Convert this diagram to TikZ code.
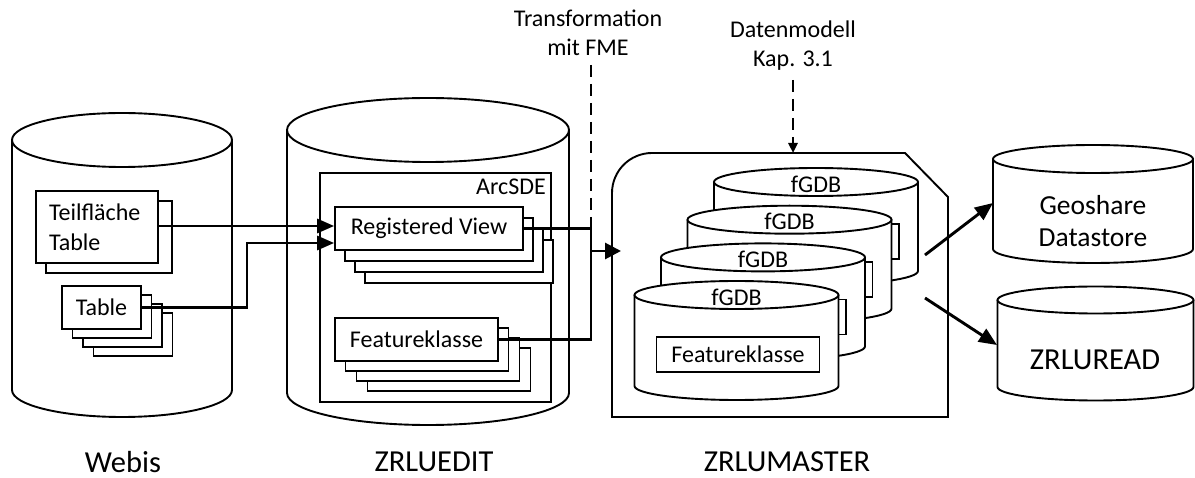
\documentclass[tikz,border=0pt]{standalone}
\usepackage{fontspec}
\setmainfont{Carlito}
\usetikzlibrary{arrows.meta}

% font sizes
\newcommand{\txtn}{\fontsize{24}{29}\selectfont}
\newcommand{\txtm}{\fontsize{27.5}{32}\selectfont}
\newcommand{\txtl}{\fontsize{30.5}{36}\selectfont}

% database cylinder: centre x, x radius, top centre y, bottom centre y, y radius
\newcommand{\dbcyl}[5]{%
  \draw[cyl] ({#1-#2},{#3}) -- ({#1-#2},{#4})
    arc[start angle=180,end angle=360,x radius=#2pt,y radius=#5pt] -- ({#1+#2},{#3});
  \draw[cyl] ({#1},{#3}) ellipse[x radius=#2pt,y radius=#5pt];
}

\begin{document}
\begin{tikzpicture}[x=1pt,y=-1pt,
  cyl/.style={draw,line width=1.9pt,fill=white},
  box/.style={draw,line width=1.7pt,fill=white,inner sep=0pt,font=\txtn},
  conn/.style={line width=2.9pt},
  bigtip/.style={-{Triangle[length=17pt,width=14pt]}},
  dashedline/.style={line width=2.8pt,dash pattern=on 12pt off 7pt},
  lbl/.style={font=\txtn,align=center,inner sep=0pt}]

\useasboundingbox[fill=white] (0,0) rectangle (1195,478);

% ---------- Webis ----------
\dbcyl{122}{110}{140}{390}{27}
\node[box,minimum width=126pt,minimum height=72pt] (tf2) at (109,237) {};
\node[box,minimum width=122pt,minimum height=72pt,text width=96pt,align=left] (tf) at (97,227) {Teilfläche\\[1pt]Table};
\node[box,minimum width=79pt,minimum height=43pt] (tb4) at (133,334.5) {};
\node[box,minimum width=79pt,minimum height=43pt] (tb3) at (122.5,325.5) {};
\node[box,minimum width=79pt,minimum height=43pt] (tb2) at (112,316.5) {};
\node[box,minimum width=79pt,minimum height=43pt] (tb) at (101.5,307.5) {Table};

% ---------- ZRLUEDIT ----------
\dbcyl{428}{141}{130}{393}{32}
\node[draw,line width=1.7pt,inner sep=0pt,minimum width=231pt,minimum height=229pt] (sde) at (435.5,287.5) {};
\node[lbl,anchor=east] (sdelabel) at (546,187) {ArcSDE};
\node[box,minimum width=188pt,minimum height=43pt] (rv4) at (459,261.5) {};
\node[box,minimum width=188pt,minimum height=43pt] (rv3) at (449,250.5) {};
\node[box,minimum width=188pt,minimum height=43pt] (rv2) at (439,239.5) {};
\node[box,minimum width=188pt,minimum height=43pt] (rv) at (429,228.5) {Registered View};
\node[box,minimum width=163pt,minimum height=43pt] (fk4) at (449,369.5) {};
\node[box,minimum width=163pt,minimum height=43pt] (fk3) at (438,359.5) {};
\node[box,minimum width=163pt,minimum height=43pt] (fk2) at (427,349.5) {};
\node[box,minimum width=163pt,minimum height=43pt] (fk) at (416.5,339.5) {Featureklasse};

% ---------- ZRLUMASTER ----------
\draw[line width=1.9pt] (612,417) -- (612,193)
  arc[start angle=180,end angle=90,radius=40pt] -- (905,153) -- (948,197) -- (948,417) -- cycle;
\foreach \k/\n in {0/a,1/b,2/c}{
  \pgfmathsetmacro\cx{816-26.5*\k}
  \pgfmathsetmacro\tc{182+37.7*\k}
  \dbcyl{\cx}{102}{\tc}{\tc+89}{14}
  \node[box,minimum width=163pt,minimum height=35pt] (fkm\n) at ({\cx+1.5},{\tc+59.5}) {};
  \node[lbl] (fgdb\n) at (\cx,{\tc+2}) {fGDB};
}
\dbcyl{736.5}{102}{295}{386}{14}
\node[box,minimum width=163pt,minimum height=35pt] (fkmd) at (738,354.5) {Featureklasse};
\node[lbl] (fgdbd) at (736.5,297) {fGDB};

% ---------- targets ----------
\dbcyl{1093}{100}{159}{249}{14}
\node[lbl,font=\txtm] (geo) at (1093,221) {Geoshare\\Datastore};
\dbcyl{1095.5}{98}{300}{387}{13.5}
\node[lbl,font=\txtl] (read) at (1095,360) {ZRLUREAD};

% ---------- labels ----------
\node[lbl] (fme) at (588,32.5) {Transformation\\mit FME};
\node[lbl] (dm) at (793,46) {Datenmodell\\Kap. 3.1};
\node[lbl,font=\txtl] (lwebis) at (123,462) {Webis};
\node[lbl,font=\txtl] (ledit) at (434,462) {ZRLUEDIT};
\node[lbl,font=\txtl] (lmaster) at (787,462) {ZRLUMASTER};

% ---------- connectors ----------
\coordinate (tbbend) at (247,243);
\coordinate (fmej) at (591,251);
\coordinate (fmetip) at (621,251);
\coordinate (fmetop) at (591,65);
\coordinate (dmtop) at (793,80);
\coordinate (mtop) at (793,153);
\coordinate (outa) at (925,255);
\coordinate (outb) at (925,298);
\coordinate (geotip) at (993,203);
\coordinate (readtip) at (997,345);

\draw[conn,bigtip] (tf.east |- 0,226) -- (rv.west |- 0,226);
\draw[conn,bigtip] (tb.east) -| (tbbend) -- (tbbend -| rv.west);
\draw[conn] (rv.east) -| (fmej) |- (fk.east);
\draw[conn,-{Triangle[length=16pt,width=16pt]}] (fmej) -- (fmetip);
\draw[dashedline] (fmetop) -- (fmetop |- rv.east);
\draw[dashedline,-{Triangle[length=10pt,width=9pt]}] (dmtop) -- (mtop);
\draw[conn,-{Triangle[length=18pt,width=15pt]}] (outa) -- (geotip);
\draw[conn,-{Triangle[length=18pt,width=15pt]}] (outb) -- (readtip);
\end{tikzpicture}
\end{document}
